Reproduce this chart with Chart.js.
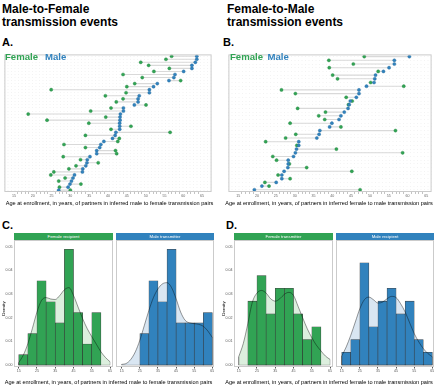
<!DOCTYPE html>
<html><head><meta charset="utf-8">
<script src="https://cdn.jsdelivr.net/npm/chart.js@4.4.1/dist/chart.umd.min.js"></script>
<style>
body{margin:0;width:440px;height:385px;background:#fff;position:relative;overflow:hidden;font-family:"Liberation Sans",Arial,Helvetica,sans-serif;}
.t{position:absolute;white-space:nowrap;color:#000;}
.h1{font-weight:bold;font-size:12px;line-height:12px;}
.lab{font-weight:bold;font-size:11px;line-height:11px;}
.leg{font-weight:bold;font-size:9.6px;line-height:9.6px;}
.ax{font-size:5.6px;line-height:6px;text-align:center;}
.strip{position:absolute;height:7px;line-height:7px;font-size:4.3px;color:#fff;text-align:center;}
.dens{font-size:4.3px;transform:rotate(-90deg);transform-origin:center;}
canvas{position:absolute;}
</style></head><body>
<div class="t h1" style="left:2px;top:2.5px">Male-to-Female</div>
<div class="t h1" style="left:2px;top:16px">transmission events</div>
<div class="t h1" style="left:227px;top:2.5px">Female-to-Male</div>
<div class="t h1" style="left:227px;top:16px">transmission events</div>
<div class="t lab" style="left:2px;top:37.4px">A.</div>
<div class="t lab" style="left:223px;top:37.4px">B.</div>
<div class="t lab" style="left:2px;top:220px">C.</div>
<div class="t lab" style="left:226px;top:220px">D.</div>

<canvas id="cA" width="216" height="158" style="left:0px;top:50px"></canvas>
<canvas id="cB" width="212" height="158" style="left:224px;top:50px"></canvas>
<canvas id="cCl" width="113" height="145" style="left:0px;top:237px"></canvas>
<canvas id="cCr" width="98" height="145" style="left:116px;top:237px"></canvas>
<canvas id="cDl" width="113" height="145" style="left:220px;top:237px"></canvas>
<canvas id="cDr" width="98" height="145" style="left:336px;top:237px"></canvas>

<div class="t leg" style="left:5px;top:52px;color:#31a354">Female</div>
<div class="t leg" style="left:45px;top:52px;color:#3182bd">Male</div>
<div class="t leg" style="left:230px;top:52px;color:#31a354">Female</div>
<div class="t leg" style="left:267.5px;top:52px;color:#3182bd">Male</div>

<div class="t ax" style="left:0px;width:219px;top:200px">Age at enrollment, in years, of partners in inferred male to female transmission pairs</div>
<div class="t ax" style="left:220px;width:218px;top:200px">Age at enrollment, in years, of partners in inferred female to male transmission pairs</div>
<div class="t ax" style="left:0px;width:217px;top:378.7px">Age at enrollment, in years, of partners in inferred male to female transmission pairs</div>
<div class="t ax" style="left:220px;width:218px;top:378.7px">Age at enrollment, in years, of partners in inferred female to male transmission pairs</div>

<div class="strip" style="left:14px;top:233px;width:99px;background:#31a354">Female recipient</div>
<div class="strip" style="left:116px;top:233px;width:98px;background:#3182bd">Male transmitter</div>
<div class="strip" style="left:234px;top:233px;width:99px;background:#31a354">Female transmitter</div>
<div class="strip" style="left:336px;top:233px;width:98px;background:#3182bd">Male recipient</div>

<div class="t dens" style="left:-5px;top:306px;width:16px;text-align:center">Density</div>
<div class="t dens" style="left:215px;top:306px;width:16px;text-align:center">Density</div>

<script>
// ---------- data ----------
const ageTicks = [15,20,25,30,35,40,45,50,55,60,65];
const histTicks = [15,25,35,45,55,65];
const densityTicks = [0,0.01,0.02,0.03,0.04,0.05];

// Panel A: male-to-female pairs (one row per pair, top to bottom)
const pairsA_female = [56.9,55.4,48.7,50.8,56.3,52.2,44.0,49.1,59.3,47.1,45.0,24.9,44.8,39.3,44.0,42.2,50.1,40.8,35.4,18.8,39.4,23.8,34.9,46.1,40.8,56.5,34.0,43.0,42.6,28.3,34.0,42.0,42.3,28.1,32.7,37.4,31.5,29.6,25.6,24.8,28.6,26.9,32.8,27.1,30.0];
const pairsA_male   = [63.6,63.6,63.2,62.3,62.3,60.1,57.8,57.5,56.2,53.1,52.1,51.0,51.0,48.3,48.0,48.0,47.0,44.1,44.1,43.3,43.2,43.2,43.1,43.1,43.1,42.1,41.9,41.2,38.9,38.1,37.8,37.0,37.0,35.2,34.5,34.4,34.1,33.3,33.2,31.1,30.7,30.3,29.9,29.4,26.9];

// Panel B: female-to-male pairs
const pairsB_female = [48.5,39.1,45.6,39.2,52.2,40.1,41.4,50.2,59.0,26.5,30.2,43.7,45.3,44.3,30.8,38.2,36.4,38.0,28.8,42.3,56.8,30.3,27.6,22.3,30.6,41.1,58.7,24.2,25.2,28.6,33.2,45.2,25.6,28.8,22.1,23.2,47.4];
const pairsB_male   = [60.5,56.5,56.5,55.1,53.6,51.5,51.3,51.1,49.1,47.1,47.1,46.4,44.8,44.5,44.2,43.2,42.3,41.8,39.9,39.3,36.7,36.5,35.9,31.1,31.1,30.5,30.2,29.7,28.3,28.3,28.2,27.2,26.6,26.6,25.1,21.3,19.3];

// Histograms (bin starts, width 5)
const binStarts = [15,20,25,30,35,40,45,50,55,60];
const histC_female = [0.0044,0.0133,0.0356,0.0267,0.0178,0.0489,0.0222,0.0089,0.0222,0];
const histC_male   = [0,0,0.0133,0.0356,0.0267,0.0489,0.0178,0.0178,0.0178,0.0222];
const histD_female = [0,0.0270,0.0378,0.0216,0.0324,0.0324,0.0216,0.0108,0.0162,0];
const histD_male   = [0.0054,0.0108,0.0432,0.0162,0.0270,0.0324,0.0216,0.0270,0.0108,0.0054];

// Density curves read at these ages
const kdeAges = [15,17.5,20,22.5,25,27.5,30,32.5,35,37.5,40,42.5,45,47.5,50,52.5,55,57.5,60,62.5,65];
const kdeC_female = [0.0010,0.0042,0.0090,0.0155,0.0224,0.0273,0.0285,0.0279,0.0277,0.0294,0.0318,0.0327,0.0294,0.0245,0.0196,0.0154,0.0120,0.0088,0.0056,0.0032,0.0014];
const kdeC_male   = [0.0003,0.0007,0.0024,0.0056,0.0105,0.0168,0.0231,0.0285,0.0322,0.0343,0.0348,0.0327,0.0280,0.0224,0.0189,0.0178,0.0175,0.0172,0.0164,0.0144,0.0116];
const kdeD_female = [0.0035,0.0091,0.0175,0.0266,0.0304,0.0315,0.0304,0.0280,0.0270,0.0280,0.0299,0.0307,0.0294,0.0248,0.0200,0.0154,0.0116,0.0084,0.0060,0.0038,0.0024];
const kdeD_male   = [0.0038,0.0077,0.0126,0.0182,0.0238,0.0276,0.0287,0.0276,0.0262,0.0266,0.0280,0.0290,0.0285,0.0259,0.0224,0.0178,0.0133,0.0098,0.0070,0.0049,0.0035];

// ---------- styling ----------
const GREEN = '#31a354', BLUE = '#3182bd';
const FONT = '"Liberation Sans", Arial, sans-serif';
Chart.defaults.font.family = FONT;

function fixSize(prop, size){
  return function(scale){
    scale[prop] = size;
    scale.paddingTop = 0; scale.paddingBottom = 0; scale.paddingLeft = 0; scale.paddingRight = 0;
  };
}
const frame = {
  id:'frame',
  afterDatasetsDraw(chart){
    const a = chart.chartArea, c = chart.ctx;
    c.save(); c.strokeStyle = '#cbcbcb'; c.lineWidth = 1;
    c.strokeRect(a.left+0.5, a.top+0.5, a.right-a.left-1, a.bottom-a.top-1);
    c.restore();
  }
};

function dotChart(id, fem, mal, xmin, xmax, padL, padR){
  const n = fem.length;
  const rows = fem.map((_, i) => i + 1);
  const seg = [];
  fem.forEach((f, i) => { seg.push({x:f, y:i+1}, {x:mal[i], y:i+1}, {x:mal[i], y:null}); });
  const minor = [];
  for (let v = 15; v <= 65; v++) minor.push(v);
  const canvas = document.getElementById(id);
  new Chart(canvas, {
    type:'line',
    data:{datasets:[
      {data:seg, borderColor:'#d9d9d9', borderWidth:1.1, pointRadius:0, spanGaps:false, order:3},
      {data:fem.map((v,i)=>({x:v,y:i+1})), showLine:false, pointRadius:1.6, pointBackgroundColor:GREEN, pointBorderColor:'#2a8a47', pointBorderWidth:0.4, order:2},
      {data:mal.map((v,i)=>({x:v,y:i+1})), showLine:false, pointRadius:1.6, pointBackgroundColor:BLUE, pointBorderColor:'#2a6ea0', pointBorderWidth:0.4, order:1}
    ]},
    options:{
      responsive:false, animation:false, devicePixelRatio:1,
      layout:{padding:{left:padL, right:padR, top:3, bottom:0}},
      plugins:{legend:{display:false}, tooltip:{enabled:false}},
      scales:{
        x:{type:'linear', min:xmin, max:xmax,
           afterBuildTicks: s => { s.ticks = minor.map(v => ({value:v})); },
           afterFit: fixSize('height', canvas.height - 3 - 139),
           grid:{drawOnChartArea:false, drawTicks:true, tickLength:2,
                 tickColor: c => (c.tick && ageTicks.includes(c.tick.value)) ? 'rgba(0,0,0,0)' : '#c4c4c4'},
           border:{display:false},
           ticks:{autoSkip:false, maxRotation:0, padding:0, color:'#666', font:{size:3.6},
                  callback: v => ageTicks.includes(v) ? String(v) : ''}},
        y:{type:'linear', min:0.4, max:n+0.6, reverse:true,
           afterBuildTicks: s => { s.ticks = rows.map(v => ({value:v})); },
           afterFit: fixSize('width', 0),
           grid:{color:'#f0f0f0', lineWidth:0.8, drawTicks:false},
           border:{display:false, dash:[1,2.5]},
           ticks:{display:false}}
      }
    },
    plugins:[frame]
  });
}

function histChart(id, color, shade, dens, kde, xmin, xmax, showY){
  const canvas = document.getElementById(id);
  const outline = [{x:kdeAges[0], y:kde[0]}, {x:kdeAges[0], y:0}, {x:kdeAges[kdeAges.length-1], y:0}, {x:kdeAges[kdeAges.length-1], y:kde[kde.length-1]}];
  new Chart(canvas, {
    type:'bar',
    data:{datasets:[
      {type:'line', data:kdeAges.map((a,i)=>({x:a,y:kde[i]})), borderColor:'rgba(0,0,0,0.5)', borderWidth:0.8,
       pointRadius:0, fill:'origin', backgroundColor:shade, cubicInterpolationMode:'monotone', order:0},
      {type:'line', data:outline, borderColor:'rgba(0,0,0,0.35)', borderWidth:0.6, pointRadius:0, fill:false, tension:0, order:0},
      {type:'bar', data:binStarts.map((b,i)=>({x:b+2.5, y:dens[i]})), backgroundColor:color,
       borderColor:'rgba(35,35,35,0.85)', borderWidth:0.6, borderSkipped:false,
       barPercentage:1, categoryPercentage:1, order:1}
    ]},
    options:{
      responsive:false, animation:false, devicePixelRatio:1,
      layout:{padding:{left:0, right:0, top:3, bottom:0}},
      plugins:{legend:{display:false}, tooltip:{enabled:false}, filler:{drawTime:'beforeDatasetsDraw'}},
      scales:{
        x:{type:'linear', min:xmin, max:xmax, offset:false,
           afterBuildTicks: s => { s.ticks = histTicks.map(v => ({value:v})); },
           afterFit: fixSize('height', canvas.height - 3 - 127),
           grid:{drawOnChartArea:false, drawTicks:true, tickLength:1.5, tickColor:'#555', offset:false},
           border:{display:false},
           ticks:{autoSkip:false, maxRotation:0, padding:0.5, color:'#555', font:{size:3.6}}},
        y:{type:'linear', min:-0.0008, max:0.0528, display:showY,
           afterBuildTicks: s => { s.ticks = densityTicks.map(v => ({value:v})); },
           afterFit: fixSize('width', showY ? 14 : 0),
           grid:{display:false, drawTicks:false},
           border:{display:false},
           ticks:{padding:1.5, color:'#555', font:{size:3.6}, callback: v => v.toFixed(2)}}
      }
    },
    plugins:[frame]
  });
}

dotChart('cA', pairsA_female, pairsA_male, 12.47, 67.53, 2, 3);
dotChart('cB', pairsB_female, pairsB_male, 12.4, 66.4, 2, 3);
histChart('cCl', GREEN, '#dcefde', histC_female, kdeC_female, 12.43, 66.6, true);
histChart('cCr', BLUE, '#d9e6f2', histC_male, kdeC_male, 11.85, 65.9, false);
histChart('cDl', GREEN, '#dcefde', histD_female, kdeD_female, 12.43, 66.6, true);
histChart('cDr', BLUE, '#d9e6f2', histD_male, kdeD_male, 11.85, 65.9, false);
</script>
</body></html>
